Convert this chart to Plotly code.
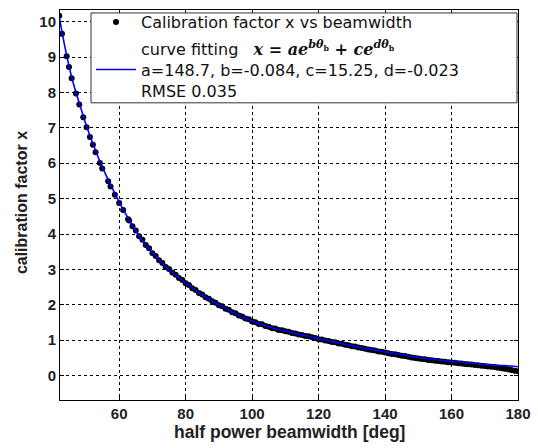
import plotly.graph_objects as go

# ---------------- data ----------------
dot_x = [42.0, 42.8, 44.2, 44.9, 45.7, 47.0, 48.0, 49.2, 50.2, 51.2, 52.1, 52.9,
         54.2, 54.9, 56.7, 57.4, 58.7, 60.0, 61.2, 62.7] + list(range(63, 181))
dot_y = [10.17, 9.66, 9.02, 8.72, 8.40, 7.97, 7.66, 7.30, 7.02, 6.74, 6.52, 6.31,
         6.01, 5.85, 5.49, 5.34, 5.11, 4.88, 4.68, 4.42,
         4.38, 4.22, 4.10, 3.94, 3.84, 3.69, 3.60, 3.46, 3.38, 3.26, 3.18, 3.07,
         3.01, 2.91, 2.85, 2.76, 2.70, 2.61, 2.56, 2.47, 2.42, 2.33, 2.29, 2.21,
         2.17, 2.10, 2.06, 1.99, 1.96, 1.89, 1.86, 1.79, 1.76, 1.70, 1.67, 1.61,
         1.59, 1.53, 1.51, 1.46, 1.45, 1.40, 1.38, 1.34, 1.33, 1.29, 1.28, 1.25,
         1.24, 1.20, 1.19, 1.16, 1.15, 1.12, 1.11, 1.08, 1.06, 1.03, 1.02, 0.99,
         0.98, 0.95, 0.94, 0.91, 0.90, 0.87, 0.86, 0.83, 0.82, 0.79, 0.78, 0.76,
         0.74, 0.72, 0.71, 0.68, 0.67, 0.65, 0.63, 0.61, 0.60, 0.58, 0.56, 0.55,
         0.53, 0.51, 0.50, 0.48, 0.47, 0.46, 0.44, 0.43, 0.42, 0.41, 0.40, 0.39,
         0.38, 0.37, 0.36, 0.35, 0.34, 0.33, 0.32, 0.31, 0.30, 0.29, 0.28, 0.27,
         0.26, 0.25, 0.24, 0.22, 0.21, 0.19, 0.18, 0.16, 0.14, 0.12]

fit_x = list(range(42, 181, 2))
fit_y = [10.12, 9.14, 8.33, 7.70, 7.10, 6.58, 6.10, 5.67, 5.28, 4.91, 4.56, 4.24,
         3.95, 3.70, 3.47, 3.27, 3.08, 2.92, 2.77, 2.62, 2.48, 2.34, 2.22, 2.11,
         2.00, 1.90, 1.80, 1.71, 1.62, 1.54, 1.47, 1.41, 1.35, 1.30, 1.26, 1.21,
         1.17, 1.13, 1.09, 1.04, 1.00, 0.96, 0.92, 0.88, 0.84, 0.80, 0.77, 0.74,
         0.70, 0.67, 0.64, 0.61, 0.58, 0.54, 0.51, 0.49, 0.46, 0.44, 0.42, 0.40,
         0.39, 0.37, 0.35, 0.33, 0.32, 0.30, 0.29, 0.28, 0.27, 0.25]

x_ticks = [60, 80, 100, 120, 140, 160, 180]
y_ticks = list(range(0, 11))

x_title = "half power beamwidth [deg]"
y_title = "calibration factor x"
dot_name = "Calibration factor x vs beamwidth"
math = ('<span style="font-family:\'DejaVu Serif\', serif"><b><i>x</i> = <i>ae</i>'
        '<sup><i>bθ</i><sub>b</sub></sup> + <i>ce</i><sup><i>dθ</i><sub>b</sub></sup></b></span>')
fit_name = ("curve fitting \u00a0\u00a0" + math +
            "<br>a=148.7, b=-0.084, c=15.25, d=-0.023" +
            "<br>RMSE 0.035")

# ---------------- figure ----------------
fig = go.Figure()
fig.add_trace(go.Scatter(x=dot_x, y=dot_y, mode="markers", name=dot_name,
                         legendgroup="g1",
                         marker=dict(color="black", size=6)))
fig.add_trace(go.Scatter(x=fit_x, y=fit_y, mode="lines", name=fit_name,
                         legendgroup="g2",
                         line=dict(color="#0000ff", width=1.6, shape="spline")))

tick_font = dict(family="Liberation Sans, Arial", size=15, color="#222")
axis_common = dict(showline=True, linecolor="black", linewidth=1, mirror="allticks",
                   ticks="inside", ticklen=4, tickcolor="black",
                   showgrid=True, gridcolor="black", gridwidth=1, griddash="dot",
                   zeroline=False, automargin=False, tickfont=tick_font)

fig.update_xaxes(range=[42.2, 180], tickvals=x_ticks,
                 ticktext=[f"<b>{v}</b>" for v in x_ticks], **axis_common)
fig.update_yaxes(range=[-0.69, 10.33], tickvals=y_ticks,
                 ticktext=[f"<b>{v}</b>" for v in y_ticks], **axis_common)

fig.add_annotation(text=f"<b>{x_title}</b>", xref="paper", yref="paper",
                   x=0.5, y=-0.083, xanchor="center", yanchor="middle",
                   showarrow=False,
                   font=dict(family="Liberation Sans, Arial", size=17.5, color="#222"))
fig.add_annotation(text=f"<b>{y_title}</b>", xref="paper", yref="paper",
                   x=-0.085, y=0.505, xanchor="center", yanchor="middle",
                   textangle=-90, showarrow=False,
                   font=dict(family="Liberation Sans, Arial", size=16, color="#222"))

# legend frame (covers the grid; no data lies under it)
fig.add_shape(type="rect", xref="paper", yref="paper",
              x0=0.0677, x1=0.9978, y0=0.762, y1=0.9924,
              fillcolor="white", line=dict(color="#333", width=1), layer="above")

fig.update_layout(
    width=538, height=448,
    margin=dict(l=60, r=20, t=5, b=48),
    paper_bgcolor="white", plot_bgcolor="white",
    showlegend=True,
    legend=dict(x=0.0677, y=1.0127, xanchor="left", yanchor="top",
                bgcolor="rgba(0,0,0,0)", borderwidth=0, itemwidth=40,
                font=dict(family="DejaVu Sans, Verdana", size=16, color="#111"),
                valign="middle", tracegroupgap=3),
)

fig.write_html("out.html", config={"displayModeBar": False},
               post_script="document.body.style.margin='0';")
